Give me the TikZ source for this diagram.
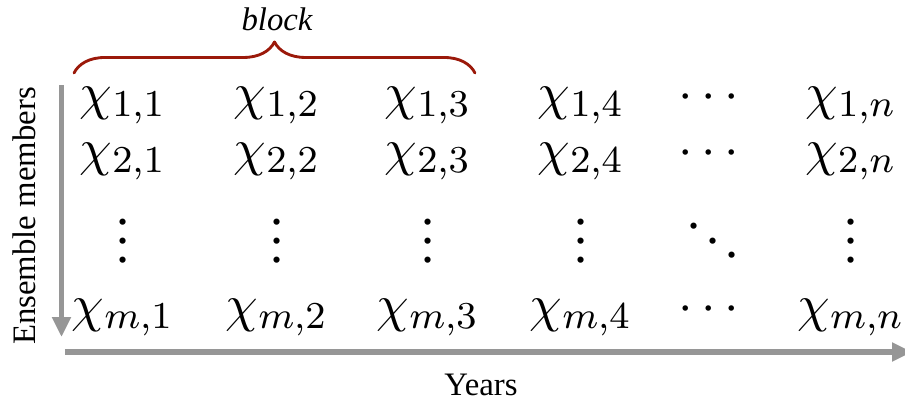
\documentclass[tikz,border=0pt]{standalone}
\usepackage{amsmath,amssymb}
\usepackage[no-math]{fontspec}
\setmainfont{Liberation Serif}
\usepackage{tikz}
\usepackage{xcolor}
\usetikzlibrary{arrows.meta,decorations.pathreplacing,positioning}
\definecolor{bracered}{RGB}{155,25,10}
\definecolor{axisgray}{RGB}{150,150,150}
\newcommand{\ensvdots}{\vbox{\baselineskip4pt\lineskiplimit0pt\hbox{.}\hbox{.}\hbox{.}}}
\newcommand{\ensddots}{\mkern1mu\raise7pt\hbox{.}\mkern2mu\raise4pt\hbox{.}\mkern2mu\raise1pt\hbox{.}\mkern1mu}
\tikzset{
  every picture/.append style={line cap=round,line join=round},
  ens entry/.style={anchor=base,inner sep=0pt,font=\fontsize{11}{13}\selectfont},
  ens axis/.style={axisgray,line width=1.2pt,line cap=butt,-{Triangle[length=4.2pt,width=3.8pt]}},
  ens label/.style={font=\fontsize{6.9}{8}\selectfont},
  ens brace/.style={bracered,semithick,decorate,decoration={brace,amplitude=0.23cm}}
}

\begin{document}
\begin{tikzpicture}[x=0.74cm,y=0.74cm]
  \useasboundingbox (0,0) rectangle (9.05,4);

  % matrix entries
  \foreach \c/\x in {1/1.23,2/2.77,3/4.28,4/5.81} {
    \node[ens entry] (x1\c) at (\x,2.91) {$\chi_{1,\c}$};
    \node[ens entry] (x2\c) at (\x,2.35) {$\chi_{2,\c}$};
    \node[ens entry] (x3\c) at (\x,1.38) {$\ensvdots$};
    \node[ens entry] (x4\c) at (\x,0.79) {$\chi_{m,\c}$};
  }
  \node[ens entry] (x15) at (7.13,2.91) {$\cdots$};
  \node[ens entry] (x25) at (7.13,2.35) {$\cdots$};
  \node[ens entry] (x35) at (7.13,1.38) {$\ensddots$};
  \node[ens entry] (x45) at (7.13,0.79) {$\cdots$};
  \node[ens entry] (x16) at (8.51,2.91) {$\chi_{1,n}$};
  \node[ens entry] (x26) at (8.51,2.35) {$\chi_{2,n}$};
  \node[ens entry] (x36) at (8.51,1.38) {$\ensvdots$};
  \node[ens entry] (x46) at (8.51,0.79) {$\chi_{m,n}$};

  % axes
  \coordinate (ens top) at (0.615,3.15);
  \coordinate (ens bot) at (0.615,0.63);
  \coordinate (year start) at (0.65,0.48);
  \coordinate (year end) at (9.12,0.48);
  \draw[ens axis] (ens top) -- (ens bot);
  \draw[ens axis] (year start) -- (year end);
  \node[ens label,rotate=90] (members) at (0.24,1.84) {Ensemble members};
  \node[ens label,anchor=base] (years) at (4.81,0.05) {Years};

  % block brace
  \coordinate (block left) at (0.74,3.27);
  \coordinate (block right) at (4.75,3.27);
  \draw[ens brace] (block left) -- (block right);
  \node[ens label,anchor=base] (block) at (2.77,3.70) {\itshape block};
\end{tikzpicture}
\end{document}
